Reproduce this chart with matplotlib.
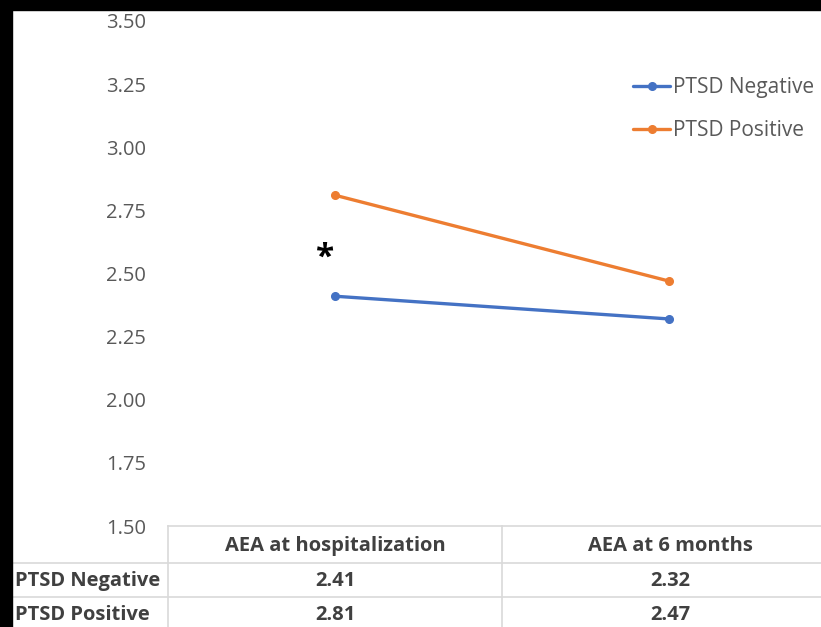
import matplotlib.pyplot as plt
from matplotlib.lines import Line2D
from matplotlib.patches import Rectangle

# data
timepoints = ["AEA at hospitalization", "AEA at 6 months"]
ptsd_negative = [2.41, 2.32]
ptsd_positive = [2.81, 2.47]
series_names = ["PTSD Negative", "PTSD Positive"]
y_ticks = [1.50, 1.75, 2.00, 2.25, 2.50, 2.75, 3.00, 3.25, 3.50]

W, H = 821, 627
BLUE = "#4472C4"
ORANGE = "#ED7D31"
GRID = "#d9d9d9"
plt.rcParams['font.family'] = ['Open Sans', 'DejaVu Sans']


def fx(px):
    return px / W


def fy(py):
    # pixel from top -> figure fraction
    return 1 - py / H


fig = plt.figure(figsize=(W / 100, H / 100), dpi=100, facecolor="white")

# chart area
ax = fig.add_axes([fx(168), fy(526), fx(836 - 168), fy(21) - fy(526)])
ax.set_facecolor("none")
x = range(len(timepoints))
ax.plot(x, ptsd_negative, color=BLUE, lw=2.4, marker="o", ms=5.5,
        label=series_names[0], solid_capstyle="round")
ax.plot(x, ptsd_positive, color=ORANGE, lw=2.4, marker="o", ms=5.5,
        label=series_names[1], solid_capstyle="round")
ax.set_xlim(-0.5, 1.5)
ax.set_ylim(1.5, 3.5)
ax.set_yticks(y_ticks)
ax.set_yticklabels([f"{v:.2f}" for v in y_ticks], color="#595959", fontsize=14.5)
ax.tick_params(axis="y", length=0, pad=16)
ax.set_xticks([])
for s in ax.spines.values():
    s.set_visible(False)

# significance marker
ax.text(-0.03, 2.56, "*", fontsize=24, fontweight="bold", ha="center",
        va="center", color="black")

fig.legend(loc="upper left", bbox_to_anchor=(fx(625), fy(69)), frameon=False,
           fontsize=15, labelcolor="#595959", handlelength=1.75,
           handletextpad=0.15, labelspacing=1.05, borderaxespad=0)

# data table below the axis
for y0, x0 in [(526, 168), (563, 12), (597, 12)]:
    fig.add_artist(Line2D([fx(x0), 1], [fy(y0), fy(y0)], color=GRID, lw=1.2))
for xv in [168, 502]:
    fig.add_artist(Line2D([fx(xv), fx(xv)], [fy(526), 0], color=GRID, lw=1.2))

col_x = [335, 670]
row_y = [581, 615]
tsize = 14.5
for cx, name in zip(col_x, timepoints):
    fig.text(fx(cx), fy(546), name, ha="center", va="center", fontsize=tsize,
             fontweight="bold", color="#404040")
rows = [ptsd_negative, ptsd_positive]
for ry, name, vals in zip(row_y, series_names, rows):
    fig.text(fx(15), fy(ry), name, ha="left", va="center", fontsize=tsize,
             fontweight="bold", color="#404040")
    for cx, v in zip(col_x, vals):
        fig.text(fx(cx), fy(ry), f"{v:.2f}", ha="center", va="center",
                 fontsize=tsize, fontweight="bold", color="#404040")

# black frame edges of the screenshot
fig.add_artist(Rectangle((0, fy(10)), 1, 1 - fy(10), transform=fig.transFigure,
                         color="black", zorder=10))
fig.add_artist(Rectangle((0, 0), fx(12), 1, transform=fig.transFigure,
                         color="black", zorder=10))

fig.savefig("out.png", dpi=100)
